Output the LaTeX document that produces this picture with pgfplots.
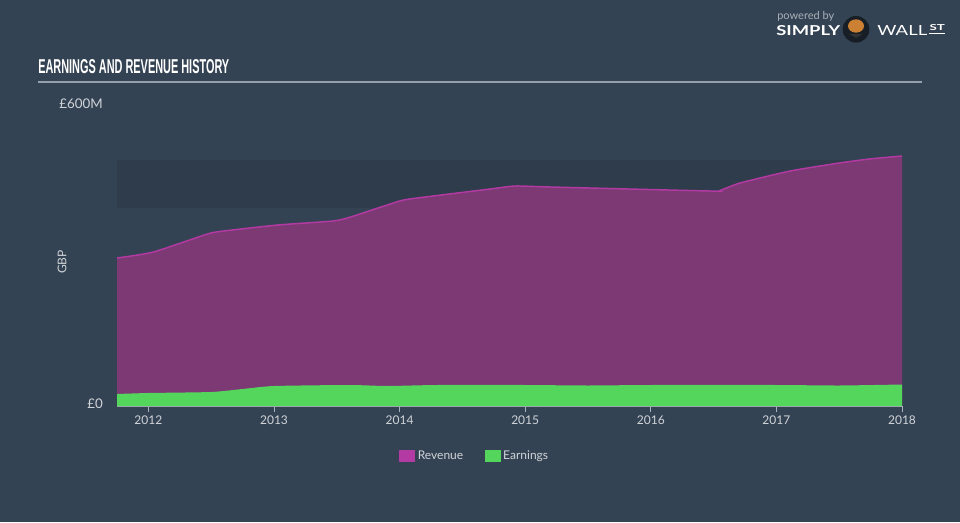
\documentclass[border=0pt]{standalone}
\usepackage{fontspec}
\setmainfont{Lato}
\usepackage{pgfplots}
\pgfplotsset{compat=1.18}
\definecolor{bg}{RGB}{52,67,83}
\definecolor{band}{RGB}{47,60,75}
\definecolor{revfill}{RGB}{124,57,116}
\definecolor{revline}{RGB}{178,58,162}
\definecolor{earn}{RGB}{83,214,91}
\definecolor{txt}{RGB}{208,212,217}
\definecolor{axisc}{RGB}{170,180,190}
\definecolor{rulec}{RGB}{150,160,170}
\definecolor{logogray}{RGB}{170,176,184}
\begin{document}
\begin{tikzpicture}
\useasboundingbox (0,0) rectangle (720pt,391.5pt);
\fill[bg] (0,0) rectangle (720pt,391.5pt);
% title
\node[anchor=base west, inner sep=0pt, text=white] at (28.5pt,336pt)
  {\resizebox{143.25pt}{10.5pt}{\fontspec{Liberation Sans}\bfseries EARNINGS AND REVENUE HISTORY}};
\draw[rulec, line width=1.2pt] (28.5pt,330pt) -- (691.5pt,330pt);
% logo
\node[anchor=base west, inner sep=0pt, text=logogray] at (582.75pt,376.5pt)
  {\resizebox{42.75pt}{!}{powered by}};
\node[anchor=base west, inner sep=0pt, text=white] at (582pt,364.5pt)
  {\resizebox{48pt}{7.5pt}{\bfseries SIMPLY}};
\fill[black!55!bg] (642pt,369.5pt) circle (10pt);
\fill[brown!80!orange] (642pt,372pt) ellipse (6pt and 5pt);
\fill[black!80] (642pt,363pt) -- (637pt,366pt) -- (647pt,366pt) -- cycle;
\node[anchor=base west, inner sep=0pt, text=white] at (657.75pt,364.5pt)
  {\resizebox{37.5pt}{7.5pt}{WALL}};
\node[anchor=base west, inner sep=0pt, text=white] at (697pt,368.5pt)
  {\resizebox{11.5pt}{4.5pt}{\bfseries ST}};
\draw[white, line width=0.8pt] (697pt,366.3pt) -- (708.5pt,366.3pt);
% y label
\node[rotate=90, text=txt, inner sep=0pt, font=\fontsize{9}{10}\selectfont] at (46.5pt,195pt) {GBP};
\begin{axis}[
  at={(87.75pt,87pt)}, anchor=south west,
  scale only axis, width=588.75pt, height=225pt,
  xmin=2011.75, xmax=2018, ymin=0, ymax=600,
  axis x line*=bottom, axis y line*=left,
  x axis line style={-, draw=axisc, line width=0.6pt},
  y axis line style={draw=none},
  xtick={2012,2013,2014,2015,2016,2017,2018},
  xticklabels={2012,2013,2014,2015,2016,2017,2018},
  ytick={0,600}, yticklabels={£0,£600M},
  tick align=outside, major tick length=4.5pt,
  xtick style={draw=axisc, line width=0.6pt},
  ytick style={draw=none},
  tick label style={font=\fontsize{9}{10}\selectfont, text=txt},
  xticklabel style={anchor=north, inner sep=0pt, yshift=-3pt},
  yticklabel style={anchor=east, inner sep=0pt, yshift=2pt, xshift=-6pt,
    font=\fontsize{10}{11}\selectfont},
  legend style={at={(0.456,-0.1667)}, anchor=center, draw=none, fill=none,
    text=txt, font=\fontsize{9}{10}\selectfont, inner sep=0pt,
    /tikz/every even column/.append style={column sep=14pt}},
  legend columns=2,
]
\fill[band] (axis cs:2011.75,396) rectangle (axis cs:2018,492);
\addplot[fill=revfill, draw=none, smooth, tension=0.35,
  legend image code/.code={\fill[revline] (0pt,-4.5pt) rectangle (12pt,4.5pt);}]
  coordinates {
  (2011.75,296) (2012.04,308) (2012.47,344) (2012.6,350) (2013.03,362)
  (2013.47,370) (2013.61,378) (2013.95,406) (2014.08,414) (2014.72,434)
  (2014.92,440) (2015.2,438) (2016.47,430) (2016.55,431) (2016.71,446)
  (2017.11,470) (2017.5,486) (2017.74,494) (2018.0,500)
  } \closedcycle;
\addlegendentry{Revenue}
\addplot[revline, line width=1.1pt, smooth, tension=0.35, forget plot]
  coordinates {
  (2011.75,296) (2012.04,308) (2012.47,344) (2012.6,350) (2013.03,362)
  (2013.47,370) (2013.61,378) (2013.95,406) (2014.08,414) (2014.72,434)
  (2014.92,440) (2015.2,438) (2016.47,430) (2016.55,431) (2016.71,446)
  (2017.11,470) (2017.5,486) (2017.74,494) (2018.0,500)
  };
\addplot[fill=earn, draw=none, smooth, tension=0.35,
  legend image code/.code={\fill[earn] (0pt,-4.5pt) rectangle (12pt,4.5pt);}]
  coordinates {
  (2011.75,24) (2012.0,26) (2012.5,28) (2012.75,34) (2013.0,40)
  (2013.6,42) (2013.9,40) (2014.3,42) (2015.0,42) (2015.5,41)
  (2016.0,42) (2017.0,42) (2017.5,41) (2018.0,43)
  } \closedcycle;
\addlegendentry{Earnings}
\end{axis}
\end{tikzpicture}
\end{document}
